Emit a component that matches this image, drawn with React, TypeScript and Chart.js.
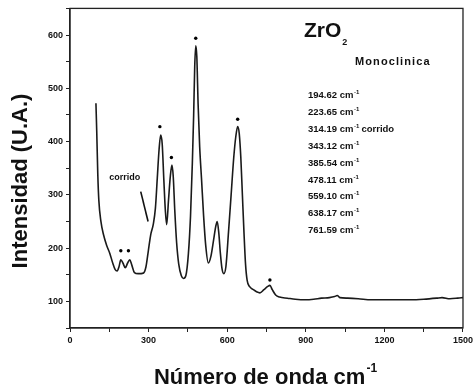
import React, { useEffect, useRef } from "react";
import { Chart, registerables } from "chart.js";

Chart.register(...registerables);

// Raman spectrum (wavenumber cm-1, intensity a.u.)
const waveNumbers = [
  99, 102, 106, 110, 118, 128, 140, 152, 163, 172, 180, 187, 194, 202, 211, 220, 228, 236, 246, 260,
  280, 290, 299, 308, 318, 326, 333, 340, 346, 352, 358, 364, 369, 376, 383, 389, 394, 400, 407, 415,
  425, 433, 442, 452, 460, 467, 472, 476, 480, 484, 489, 495, 502, 510, 518, 528, 538, 548, 556, 562,
  568, 574, 580, 587, 595, 605, 615, 625, 633, 640, 646, 652, 658, 664, 670, 676, 685, 700, 712, 725,
  740, 755, 763, 772, 785, 800, 830, 860, 900, 930, 960, 990, 1010, 1020, 1030, 1060, 1100, 1150, 1200,
  1250, 1300, 1350, 1400, 1420, 1450, 1480, 1500,
];
const intensities = [
  472, 420, 340, 290, 250, 225, 205, 190, 172, 160, 157, 165, 178, 172, 163, 172, 178, 168, 154, 152,
  153, 165, 195, 225, 245, 275, 330, 385, 412, 395, 330, 270, 244, 290, 335, 356, 335, 270, 210, 170,
  148, 143, 148, 190, 260, 360, 450, 540, 580, 560, 470, 390, 330, 260, 205, 172, 185, 215, 240, 250,
  228, 190, 162, 152, 165, 230, 300, 370, 410, 428, 415, 370, 300, 230, 170, 140, 128, 122, 118, 116,
  122, 128, 130, 122, 112, 108, 106, 104, 103, 104, 106, 107, 109, 111, 107, 106, 105, 103, 103,
  103, 103, 104, 106, 107, 105, 106, 107,
];

// marked peaks (asterisks)
const markX = [194, 223, 343, 387, 480, 640, 763];
const markY = [195, 195, 428, 370, 594, 442, 140];

// peak list text
const peakList = ["194.62", "223.65", "314.19", "343.12", "385.54", "478.11", "559.10", "638.17", "761.59"];
const shoulderIndex = 2;

const xTickStep = 150;
const xLabelStep = 300;
const yTickStep = 50;
const yLabelStep = 100;

const FONT = '"Liberation Sans", Arial, sans-serif';

const annotate = {
  id: "annotate",
  afterDraw(chart: any) {
    const ctx = chart.ctx as CanvasRenderingContext2D;
    const a = chart.chartArea;
    const xs = chart.scales.x;
    const ys = chart.scales.y;
    ctx.save();
    // frame
    ctx.strokeStyle = "#222";
    ctx.lineWidth = 1.3;
    ctx.strokeRect(a.left, a.top, a.right - a.left, a.bottom - a.top);

    ctx.fillStyle = "#111";
    // y title
    ctx.save();
    ctx.translate(21, 181);
    ctx.rotate(-Math.PI / 2);
    ctx.font = `bold 22px ${FONT}`;
    ctx.textAlign = "center";
    ctx.textBaseline = "middle";
    ctx.fillText("Intensidad (U.A.)", 0, 0);
    ctx.restore();

    // x title
    ctx.font = `bold 22px ${FONT}`;
    ctx.textBaseline = "alphabetic";
    ctx.textAlign = "left";
    const xt = "Número de onda cm";
    const w = ctx.measureText(xt).width;
    ctx.font = `bold 12px ${FONT}`;
    const sw = ctx.measureText("-1").width;
    const x0 = 265 - (w + sw) / 2;
    ctx.font = `bold 22px ${FONT}`;
    ctx.fillText(xt, x0, 384);
    ctx.font = `bold 12px ${FONT}`;
    ctx.fillText("-1", x0 + w + 1, 372);

    // ZrO2
    ctx.font = `bold 21px ${FONT}`;
    ctx.fillText("ZrO", 304, 37);
    const zw = ctx.measureText("ZrO").width;
    ctx.font = `bold 9px ${FONT}`;
    ctx.fillText("2", 304 + zw + 1, 45);

    // Monoclinica
    ctx.font = `bold 11px ${FONT}`;
    try { (ctx as any).letterSpacing = "1.1px"; } catch (e) {}
    ctx.fillText("Monoclinica", 355, 65);
    try { (ctx as any).letterSpacing = "0px"; } catch (e) {}

    // peak list
    peakList.forEach((p, i) => {
      const yb = 98 + i * 16.9;
      ctx.font = `bold 9.5px ${FONT}`;
      const t = p + " cm";
      ctx.fillText(t, 308, yb);
      const tw = ctx.measureText(t).width;
      ctx.font = `bold 6px ${FONT}`;
      ctx.fillText("-1", 308 + tw + 0.5, yb - 4);
      if (i === shoulderIndex) {
        ctx.font = `bold 9.5px ${FONT}`;
        ctx.fillText("corrido", 308 + tw + 8, yb);
      }
    });

    // "corrido" label and arrow
    ctx.font = `bold 9px ${FONT}`;
    ctx.fillText("corrido", xs.getPixelForValue(150), ys.getPixelForValue(327));
    ctx.beginPath();
    ctx.lineWidth = 1.6;
    ctx.strokeStyle = "#111";
    ctx.moveTo(xs.getPixelForValue(270), ys.getPixelForValue(306));
    ctx.lineTo(xs.getPixelForValue(298), ys.getPixelForValue(250));
    ctx.stroke();
    ctx.restore();
  },
};

export default function App() {
  const ref = useRef<HTMLCanvasElement | null>(null);
  useEffect(() => {
    if (!ref.current) return;
    const chart = new Chart(ref.current, {
      type: "line",
      data: {
        datasets: [
          {
            data: waveNumbers.map((x, i) => ({ x, y: intensities[i] })),
            borderColor: "#1a1a1a",
            borderWidth: 1.6,
            pointRadius: 0,
            tension: 0.35,
            cubicInterpolationMode: "monotone",
            fill: false,
          },
          {
            data: markX.map((x, i) => ({ x, y: markY[i] })),
            showLine: false,
            pointRadius: 1.7,
            pointBackgroundColor: "#000",
            pointBorderColor: "#000",
            pointBorderWidth: 0,
          },
        ],
      },
      options: {
        animation: false,
        responsive: false,
        layout: { padding: { left: 0, top: 8, right: 13, bottom: 0 } },
        plugins: { legend: { display: false }, tooltip: { enabled: false }, title: { display: false } },
        scales: {
          x: {
            type: "linear",
            min: 0,
            max: 1500,
            afterFit: (s: any) => { s.height = 64; },
            ticks: {
              stepSize: xTickStep,
              autoSkip: false,
              maxRotation: 0,
              padding: 3,
              color: "#111",
              font: { family: FONT, size: 9, weight: "bold" },
              callback: (v: any) => (Number(v) % xLabelStep === 0 ? String(v) : ""),
            },
            grid: { drawOnChartArea: false, drawTicks: true, tickLength: 4, color: "#222", lineWidth: 1 },
            border: { display: true, color: "#222", width: 1.3 },
          },
          y: {
            min: 50,
            max: 650,
            afterFit: (s: any) => { s.width = 70; },
            ticks: {
              stepSize: yTickStep,
              autoSkip: false,
              padding: 3,
              color: "#111",
              font: { family: FONT, size: 9, weight: "bold" },
              callback: (v: any) => (Number(v) % yLabelStep === 0 ? String(v) : ""),
            },
            grid: { drawOnChartArea: false, drawTicks: true, tickLength: 4, color: "#222", lineWidth: 1 },
            border: { display: true, color: "#222", width: 1.3 },
          },
        },
      } as any,
      plugins: [annotate],
    });
    return () => chart.destroy();
  }, []);
  return (
    <div style={{ position: "fixed", left: 0, top: 0, width: 476, height: 392, background: "#fff" }}>
      <canvas ref={ref} width={476} height={392} style={{ display: "block" }} />
    </div>
  );
}
